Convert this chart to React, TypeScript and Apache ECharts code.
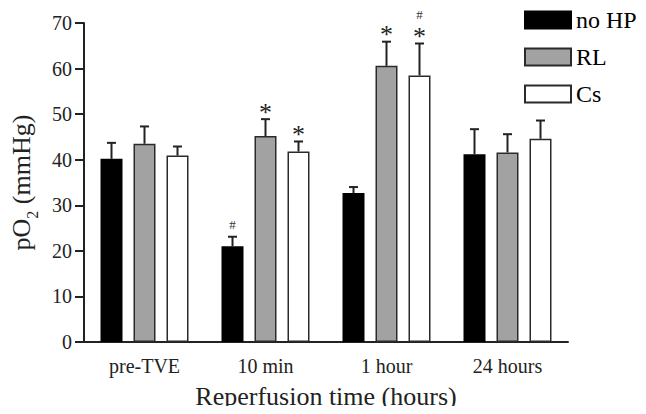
import React, { useEffect, useRef } from "react";
import * as echarts from "echarts";

const categories = ["pre-TVE", "10 min", "1 hour", "24 hours"];
const seriesNames = ["no HP", "RL", "Cs"];
const noHP = [40.2, 21.0, 32.7, 41.2];
const noHPErr = [3.5, 2.1, 1.3, 5.5];
const rl = [43.5, 45.2, 60.6, 41.6];
const rlErr = [3.8, 3.7, 5.3, 4.0];
const cs = [40.9, 41.8, 58.5, 44.6];
const csErr = [2.0, 2.2, 7.0, 4.0];
// significance marks per series per category
const starMarks = [
  [0, 0, 0, 0],
  [0, 1, 1, 0],
  [0, 1, 1, 0],
];
const hashMarks = [
  [0, 1, 0, 0],
  [0, 0, 0, 0],
  [0, 0, 1, 0],
];
const yTicks = { min: 0, max: 70, interval: 10 };

const BAR_W = 22;
const BAR_GAP = 11;
const FONT = "'Liberation Serif', 'Times New Roman', serif";

export default function App() {
  const ref = useRef<HTMLDivElement>(null);
  useEffect(() => {
    if (!ref.current) return;
    const chart = echarts.init(ref.current, undefined, { renderer: "svg" });
    const means = [noHP, rl, cs];
    const errs = [noHPErr, rlErr, csErr];
    const errData: number[][] = [];
    means.forEach((arr, s) =>
      arr.forEach((m, c) => {
        errData.push([c, m, errs[s][c], s, starMarks[s][c], hashMarks[s][c]]);
      })
    );
    const styles = [
      { color: "#000", borderColor: "#000", borderWidth: 1.5 },
      { color: "#a2a2a2", borderColor: "#2a2a2a", borderWidth: 1.5 },
      { color: "#fff", borderColor: "#2a2a2a", borderWidth: 1.5 },
    ];
    chart.setOption({
      animation: false,
      grid: { left: 82, right: 78, top: 23, bottom: 68, containLabel: false },
      legend: {
        orient: "vertical",
        left: 524,
        top: 8,
        padding: 0,
        itemWidth: 46,
        itemHeight: 17,
        itemGap: 13,
        icon: "rect",
        data: seriesNames,
        textStyle: { fontSize: 24, fontFamily: FONT, color: "#000" },
      },
      xAxis: {
        type: "category",
        data: categories,
        axisLine: { lineStyle: { color: "#222", width: 2 } },
        axisTick: { show: false },
        axisLabel: { fontSize: 20, fontFamily: FONT, color: "#222", margin: 14 },
        name: "Reperfusion time (hours)",
        nameLocation: "middle",
        nameGap: 41,
        nameTextStyle: { fontSize: 26, fontFamily: FONT, color: "#222" },
      },
      yAxis: {
        type: "value",
        min: yTicks.min,
        max: yTicks.max,
        interval: yTicks.interval,
        splitLine: { show: false },
        axisLine: { show: true, lineStyle: { color: "#222", width: 2 } },
        axisTick: { show: true, inside: false, length: 9, lineStyle: { color: "#222", width: 2 } },
        axisLabel: { fontSize: 20, fontFamily: FONT, color: "#222", margin: 12 },
        name: "{a|pO}{s|2}{a| (mmHg)}",
        nameLocation: "middle",
        nameRotate: 90,
        nameGap: 48,
        nameTextStyle: {
          fontFamily: FONT,
          color: "#222",
          rich: {
            a: { fontSize: 26, fontFamily: FONT, color: "#222", lineHeight: 30, verticalAlign: "middle" },
            s: { fontSize: 16, fontFamily: FONT, color: "#222", lineHeight: 16, verticalAlign: "bottom", padding: [0, 0, -4, 0] },
          },
        },
      },
      series: [
        ...seriesNames.map((name, s) => ({
          name,
          type: "bar",
          data: means[s],
          barWidth: BAR_W,
          barGap: "50%",
          itemStyle: styles[s],
        })),
        {
          type: "custom",
          data: errData,
          encode: { x: 0, y: 1 },
          z: 3,
          renderItem: (params: any, api: any) => {
            const c = api.value(0);
            const m = api.value(1);
            const sd = api.value(2);
            const s = api.value(3);
            const star = api.value(4);
            const hash = api.value(5);
            const base = api.coord([c, m]);
            const top = api.coord([c, m + sd]);
            const x = base[0] + (s - 1) * (BAR_W + BAR_GAP);
            const stroke = "#222";
            const children: any[] = [
              { type: "line", shape: { x1: x, y1: base[1], x2: x, y2: top[1] }, style: { stroke, lineWidth: 2 } },
              { type: "line", shape: { x1: x - 4.5, y1: top[1], x2: x + 4.5, y2: top[1] }, style: { stroke, lineWidth: 2 } },
            ];
            if (star) {
              children.push({
                type: "text",
                x,
                y: top[1],
                style: { text: "*", fontSize: 26, lineHeight: 14, fontFamily: FONT, fill: "#222", textAlign: "center", textVerticalAlign: "bottom" },
              });
            }
            if (hash) {
              children.push({
                type: "text",
                x,
                y: star ? top[1] - 23.5 : top[1] - 6,
                style: { text: "#", fontSize: 13, lineHeight: 12, fontFamily: FONT, fill: "#333", textAlign: "center", textVerticalAlign: "bottom" },
              });
            }
            return { type: "group", children };
          },
        },
      ],
    });
    return () => chart.dispose();
  }, []);
  return <div ref={ref} style={{ width: 646, height: 414, margin: -8 }} />;
}
